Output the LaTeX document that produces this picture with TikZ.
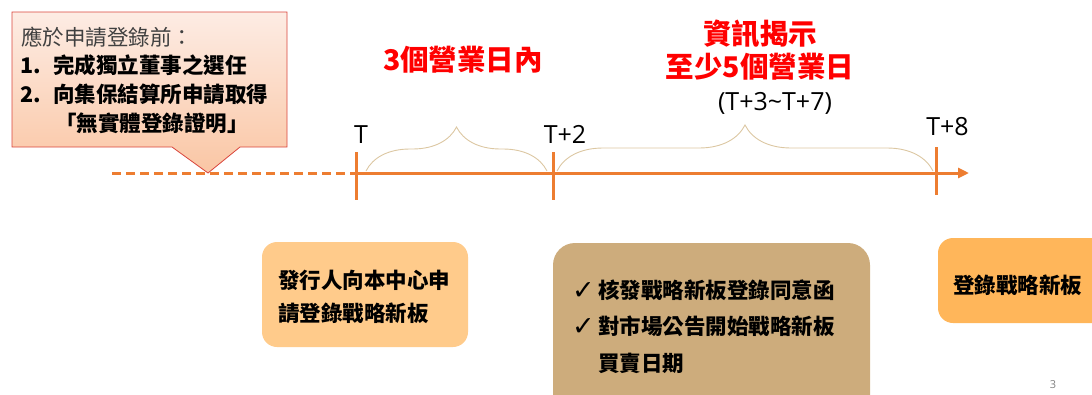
\documentclass[tikz,border=0pt]{standalone}
\usepackage{fontspec}
\setmainfont{Open Sans}
\newfontfamily\cjk{Noto Sans CJK TC}
\newfontfamily\dv{DejaVu Sans}
\usetikzlibrary{decorations.pathreplacing,arrows.meta}
\definecolor{lineor}{HTML}{ED7D31}
\definecolor{calltop}{HTML}{FDECE4}
\definecolor{callbot}{HTML}{FAC6A4}
\definecolor{callborder}{HTML}{D9453C}
\definecolor{bracec}{HTML}{DCC7A2}
\definecolor{boxa}{HTML}{FFCB8B}
\definecolor{boxb}{HTML}{CDAC7C}
\definecolor{boxc}{HTML}{FFB65A}
\definecolor{darkgraytext}{HTML}{404040}
\definecolor{redtext}{HTML}{FF0000}
\tikzset{
  tl/.style={draw=lineor, line width=3pt},
  tickmark/.style={draw=lineor, line width=3pt},
  bracepath/.style={draw=bracec, line width=0.9pt, decorate},
  tlabel/.style={anchor=base, inner sep=0pt, font=\fontsize{25}{29}\selectfont},
  redtitle/.style={inner sep=0pt, text=redtext, font=\cjk\bfseries\fontsize{28.5}{32}\selectfont},
  calltext/.style={anchor=west, inner sep=0pt, font=\cjk\fontsize{21.5}{25}\selectfont},
  boxshape/.style={rounded corners=#1, inner sep=0pt},
  boxtext/.style={inner sep=0pt, font=\cjk\bfseries\fontsize{21.5}{33}\selectfont, align=left}
}
\newcommand{\chk}{\makebox[26pt][l]{\raisebox{-1pt}{\dv\mdseries\fontsize{27}{27}\selectfont ✓}}}
\begin{document}
\begin{tikzpicture}[x=1pt,y=-1pt]
\useasboundingbox (0,0) rectangle (1092,394);
\clip (0,0) rectangle (1092,394);

% callout
\shadedraw[top color=calltop, bottom color=callbot, draw=callborder, line width=0.8pt]
  (12,12) -- (287,12) -- (287,147) -- (240,147) -- (208,173) -- (172,147) -- (12,147) -- cycle;
\node[calltext, text=darkgraytext] (c1) at (21,37) {應於申請登錄前：};
\node[calltext, font=\cjk\bfseries\fontsize{21.5}{25}\selectfont] (c2) at (20,65) {\makebox[33pt][l]{1.}完成獨立董事之選任};
\node[calltext, font=\cjk\bfseries\fontsize{21.5}{25}\selectfont] (c3) at (20,94) {\makebox[33pt][l]{2.}向集保結算所申請取得};
\node[inner sep=0pt, font=\cjk\bfseries\fontsize{21.5}{25}\selectfont] (c4) at (152,123) {「無實體登錄證明」};

% timeline
\coordinate (dstart) at (112,173);
\coordinate (t0) at (356,173);
\coordinate (t2) at (553,173);
\coordinate (t8) at (936,173);
\coordinate (tend) at (969,173);
\draw[tl, dash pattern=on 9pt off 5pt] (dstart) -- (t0);
\draw[tl, -{Triangle[length=11pt,width=10pt]}] (t0) -- (tend);
\draw[tickmark] ([yshift=21pt]t0) -- ([yshift=-27pt]t0);
\draw[tickmark] ([yshift=21pt]t2) -- ([yshift=-27pt]t2);
\draw[tickmark] ([yshift=26pt]t8) -- ([yshift=-22pt]t8);

% braces
\draw[bracepath, decoration={brace, amplitude=44pt}] (366,171) -- (547,171);
\draw[bracepath, decoration={brace, amplitude=46pt}] (557,171) -- (933,171);

% labels
\node[tlabel] (lT) at (361,143) {T};
\node[tlabel] (lT2) at (565,143) {T+2};
\node[tlabel] (lT8) at (947.5,135) {T+8};
\node[tlabel] (lrange) at (775,110) {(T+3\textasciitilde T+7)};

\node[redtitle] (r1) at (463,60) {3個營業日內};
\node[redtitle] (r2) at (760,34) {資訊揭示};
\node[redtitle] (r3) at (760,67) {至少5個營業日};

% boxes
\node[boxshape=15pt, fill=boxa, minimum width=206pt, minimum height=105pt] (b1) at (365,294.5) {};
\node[boxtext] (b1t) at (364,296.5) {發行人向本中心申\\請登錄戰略新板};

\node[boxshape=22pt, fill=boxb, minimum width=317pt, minimum height=174pt] (b2) at (711.5,330) {};
\node[boxtext, anchor=west, font=\cjk\bfseries\fontsize{21.5}{36.5}\selectfont] (b2t) at (572,326.5)
  {\chk 核發戰略新板登錄同意函\\
   \chk 對市場公告開始戰略新板\\
   \makebox[26pt][l]{}買賣日期};

\node[boxshape=15pt, fill=boxc, minimum width=194pt, minimum height=85pt] (b3) at (1035,280.5) {};
\node[boxtext] (b3t) at (1017.5,285) {登錄戰略新板};

\node[inner sep=0pt, text=gray, font=\fontsize{11}{13}\selectfont] (pg) at (1053,385) {3};
\end{tikzpicture}
\end{document}
